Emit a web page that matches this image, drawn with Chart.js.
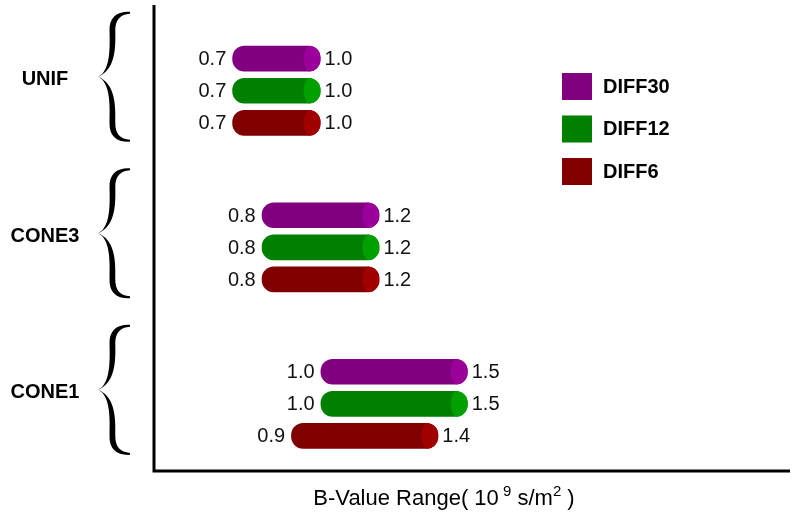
<!DOCTYPE html>
<html>
<head>
<meta charset="utf-8">
<script src="https://cdn.jsdelivr.net/npm/chart.js@4/dist/chart.umd.min.js"></script>
<style>
  body { margin: 0; background: #fff; }
  #wrap { width: 800px; height: 518px; }
</style>
</head>
<body>
<div id="wrap"><canvas id="rangeChart" width="800" height="518"></canvas></div>
<script>
const categories = ["UNIF", "CONE3", "CONE1"];
const seriesNames = ["DIFF30", "DIFF12", "DIFF6"];
const diff30Start = [0.7, 0.8, 1.0];
const diff30End = [1.0, 1.2, 1.5];
const diff12Start = [0.7, 0.8, 1.0];
const diff12End = [1.0, 1.2, 1.5];
const diff6Start = [0.7, 0.8, 0.9];
const diff6End = [1.0, 1.2, 1.4];

const bodyColors = ["#800080", "#008000", "#800000"];
const capColors = ["#9b009b", "#00a000", "#a00000"];

function ranges(starts, ends) {
  return starts.map((s, i) => ({ x: [s, ends[i]], y: i }));
}

// curly brace as a filled shape, thick in the arms and thin at the ends
function drawBrace(ctx, x, y, w, h) {
  const half = (flip) => {
    const P = (u, v) => [x + u * w, flip ? y + h - v * h / 2 : y + v * h / 2];
    const m = P(1, 0);
    ctx.moveTo(m[0], m[1]);
    ctx.bezierCurveTo(...P(0.6, -0.01), ...P(0.34, 0.08), ...P(0.36, 0.3));
    ctx.bezierCurveTo(...P(0.38, 0.62), ...P(0.36, 0.92), ...P(0, 1));
    ctx.bezierCurveTo(...P(0.5, 0.9), ...P(0.56, 0.62), ...P(0.54, 0.3));
    ctx.bezierCurveTo(...P(0.53, 0.12), ...P(0.7, 0.04), ...P(1, 0.03));
    ctx.closePath();
  };
  ctx.save();
  ctx.fillStyle = "#000";
  ctx.beginPath();
  half(false);
  half(true);
  ctx.fill();
  ctx.restore();
}

// axes, braces, category names, legend and the axis title
const decorations = {
  id: "decorations",
  beforeDatasetsDraw(chart) {
    const { ctx, chartArea } = chart;
    const yScale = chart.scales.y;
    ctx.save();
    ctx.strokeStyle = "#000";
    ctx.lineWidth = 3;
    ctx.beginPath();
    ctx.moveTo(chartArea.left, chartArea.top);
    ctx.lineTo(chartArea.left, chartArea.bottom);
    ctx.lineTo(chartArea.right, chartArea.bottom);
    ctx.stroke();

    categories.forEach((name, i) => {
      const cy = yScale.getPixelForValue(i);
      drawBrace(ctx, 98, cy - 14 - 65, 32, 130);
      ctx.fillStyle = "#000";
      ctx.font = "bold 20px 'Liberation Sans', Arial, sans-serif";
      ctx.textAlign = "center";
      ctx.textBaseline = "middle";
      ctx.fillText(name, 45, cy - 11);
    });

    // legend
    seriesNames.forEach((name, i) => {
      const ly = 86 + i * 42.5;
      ctx.fillStyle = bodyColors[i];
      ctx.fillRect(562, ly - 13, 30, 27);
      ctx.fillStyle = "#000";
      ctx.font = "bold 20px 'Liberation Sans', Arial, sans-serif";
      ctx.textAlign = "left";
      ctx.textBaseline = "middle";
      ctx.fillText(name, 603, ly + 1);
    });

    // axis title with superscripts
    const parts = [
      { t: "B-Value Range", f: 22, dy: 0 },
      { t: "( 10", f: 22, dy: 0 },
      { t: " 9", f: 15, dy: -9 },
      { t: " s/m", f: 22, dy: 0 },
      { t: "2", f: 15, dy: -9 },
      { t: " )", f: 22, dy: 0 }
    ];
    let total = 0;
    parts.forEach(p => {
      ctx.font = p.f + "px 'Liberation Sans', Arial, sans-serif";
      p.w = ctx.measureText(p.t).width;
      total += p.w;
    });
    let tx = 444 - total / 2;
    ctx.textAlign = "left";
    ctx.textBaseline = "alphabetic";
    ctx.fillStyle = "#000";
    parts.forEach(p => {
      ctx.font = p.f + "px 'Liberation Sans', Arial, sans-serif";
      ctx.fillText(p.t, tx, 505 + p.dy);
      tx += p.w;
    });
    ctx.restore();
  },
  afterDatasetsDraw(chart) {
    const { ctx } = chart;
    ctx.save();
    chart.data.datasets.forEach((ds, di) => {
      const meta = chart.getDatasetMeta(di);
      meta.data.forEach((bar, j) => {
        const p = bar.getProps(["x", "y", "base", "height"], true);
        const h = p.height;
        // lighter end cap
        ctx.save();
        ctx.beginPath();
        ctx.roundRect(p.base, p.y - h / 2, p.x - p.base, h, 12);
        ctx.clip();
        ctx.fillStyle = capColors[di];
        ctx.beginPath();
        ctx.ellipse(p.x - 9, p.y, 8, h / 2 + 1, 0, 0, Math.PI * 2);
        ctx.fill();
        ctx.fillRect(p.x - 9, p.y - h / 2, 9, h);
        ctx.restore();

        const v = ds.data[j].x;
        ctx.fillStyle = "#111";
        ctx.font = "20px 'Liberation Sans', Arial, sans-serif";
        ctx.textBaseline = "middle";
        ctx.textAlign = "right";
        ctx.fillText(v[0].toFixed(1), p.base - 6, p.y + 1);
        ctx.textAlign = "left";
        ctx.fillText(v[1].toFixed(1), p.x + 4, p.y + 1);
      });
    });
    ctx.restore();
  }
};

new Chart(document.getElementById("rangeChart").getContext("2d"), {
  type: "bar",
  data: {
    datasets: [
      { label: seriesNames[0], data: ranges(diff30Start, diff30End), backgroundColor: bodyColors[0] },
      { label: seriesNames[1], data: ranges(diff12Start, diff12End), backgroundColor: bodyColors[1] },
      { label: seriesNames[2], data: ranges(diff6Start, diff6End), backgroundColor: bodyColors[2] }
    ]
  },
  options: {
    indexAxis: "y",
    responsive: false,
    animation: false,
    layout: { padding: { left: 154, right: 10, top: 5, bottom: 47 } },
    datasets: {
      bar: {
        categoryPercentage: 0.615,
        barPercentage: 0.8,
        borderRadius: 12,
        borderSkipped: false
      }
    },
    scales: {
      x: { type: "linear", min: 0.434, max: 2.595, display: false, offset: false },
      y: {
        type: "linear",
        reverse: true,
        offset: false,
        min: -0.548,
        max: 2.429,
        display: false,
        afterBuildTicks(scale) {
          scale.ticks = categories.map((c, i) => ({ value: i }));
        }
      }
    },
    plugins: {
      legend: { display: false },
      tooltip: { enabled: false }
    }
  },
  plugins: [decorations]
});
</script>
</body>
</html>
